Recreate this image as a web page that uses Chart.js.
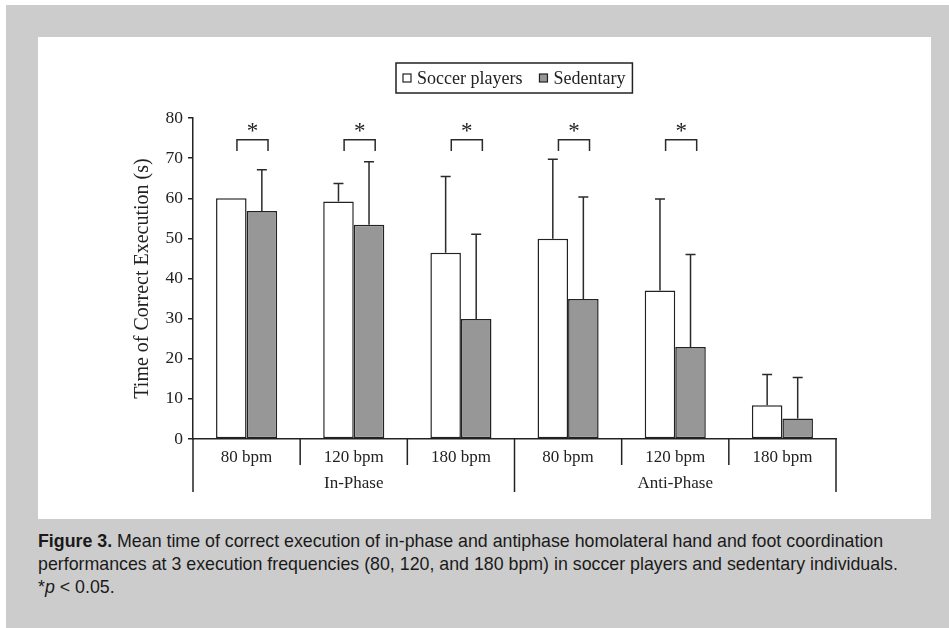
<!DOCTYPE html>
<html lang="en">
<head>
    <meta charset="UTF-8">
    <title>Figure 3</title>
    <script src="https://cdn.jsdelivr.net/npm/chart.js"></script>
    <style>
        body { margin: 0; width: 949px; height: 628px; overflow: hidden; background: #fff; }
        .fundo { position: absolute; left: 6px; top: 5px; width: 943px; height: 623px; background: #cccccc; }
        .painel { position: absolute; left: 38px; top: 37px; width: 893px; height: 482px; background: #fff; }
        .legenda { position: absolute; left: 38px; top: 530px; width: 905px; font-family: "Liberation Sans", Arial, sans-serif; font-size: 17.8px; line-height: 23px; color: #1a1a1a; white-space: nowrap; }
    </style>
</head>
<body>
    <div class="fundo"></div>
    <div class="painel">
        <canvas id="grafico" width="893" height="482"></canvas>
    </div>
    <div class="legenda">
        <b>Figure 3.</b> Mean time of correct execution of in-phase and antiphase homolateral hand and foot coordination<br>
        performances at 3 execution frequencies (80, 120, and 180 bpm) in soccer players and sedentary individuals.<br>
        *<i>p</i> &lt; 0.05.
    </div>
<script>
    var frequencias = ['80 bpm', '120 bpm', '180 bpm', '80 bpm', '120 bpm', '180 bpm']
    var fases = ['In-Phase', 'Anti-Phase']
    var tamanhoFase = [3, 3]
    var mediaSoccer = [60, 59.2, 46.4, 49.9, 37, 8.4]
    var dpSoccer = [0, 4.5, 19, 19.8, 22.8, 7.7]
    var mediaSed = [56.8, 53.4, 29.9, 34.9, 22.9, 5.1]
    var dpSed = [10.3, 15.7, 21.1, 25.4, 23.1, 10.2]
    var significativo = [true, true, true, true, true, false]
    var ticksY = [0, 10, 20, 30, 40, 50, 60, 70, 80]

    var serif = '"Liberation Serif", "Times New Roman", serif'
    var cor = '#222'

    var extras = {
        id: 'extras',
        afterDatasetsDraw(chart) {
            var ctx = chart.ctx
            var y = chart.scales.y
            var x = chart.scales.x
            var dps = [dpSoccer, dpSed]
            ctx.save()
            ctx.strokeStyle = '#2a2a2a'
            ctx.lineWidth = 1.5
            // barras de erro (só para cima)
            chart.data.datasets.forEach(function (ds, i) {
                var meta = chart.getDatasetMeta(i)
                meta.data.forEach(function (bar, j) {
                    var dp = dps[i][j]
                    if (!dp) return
                    var topo = y.getPixelForValue(ds.data[j] + dp)
                    ctx.beginPath()
                    ctx.moveTo(bar.x, bar.y)
                    ctx.lineTo(bar.x, topo)
                    ctx.moveTo(bar.x - 5, topo)
                    ctx.lineTo(bar.x + 5, topo)
                    ctx.stroke()
                })
            })
            // colchetes de significância
            ctx.fillStyle = cor
            ctx.font = '23px ' + serif
            ctx.textAlign = 'center'
            ctx.textBaseline = 'alphabetic'
            significativo.forEach(function (sig, i) {
                if (!sig) return
                var xe = x.getPixelForValue(i - 0.09)
                var xd = x.getPixelForValue(i + 0.2)
                var yt = y.getPixelForValue(74.6)
                var yb = y.getPixelForValue(71.8)
                ctx.beginPath()
                ctx.moveTo(xe, yb)
                ctx.lineTo(xe, yt)
                ctx.lineTo(xd, yt)
                ctx.lineTo(xd, yb)
                ctx.stroke()
                ctx.fillText('*', (xe + xd) / 2, yt - 2)
            })
            ctx.restore()
        },
        afterDraw(chart) {
            var ctx = chart.ctx
            var x = chart.scales.x
            var area = chart.chartArea
            ctx.save()
            ctx.strokeStyle = cor
            ctx.lineWidth = 1.5
            // separadores do eixo x
            var limitesFase = [0]
            tamanhoFase.forEach(function (n) { limitesFase.push(limitesFase[limitesFase.length - 1] + n) })
            for (var k = 0; k <= frequencias.length; k++) {
                var px = x.getPixelForValue(k - 0.5)
                var fim = limitesFase.indexOf(k) >= 0 ? area.bottom + 53 : area.bottom + 26
                ctx.beginPath()
                ctx.moveTo(px, area.bottom)
                ctx.lineTo(px, fim)
                ctx.stroke()
            }
            ctx.fillStyle = cor
            ctx.font = '17px ' + serif
            ctx.textAlign = 'center'
            ctx.textBaseline = 'middle'
            fases.forEach(function (f, i) {
                var a = x.getPixelForValue(limitesFase[i] - 0.5)
                var b = x.getPixelForValue(limitesFase[i + 1] - 0.5)
                ctx.fillText(f, (a + b) / 2, area.bottom + 45)
            })
            // legenda com moldura
            ctx.font = '18px ' + serif
            ctx.textAlign = 'left'
            var itens = chart.data.datasets.map(function (ds) {
                return { texto: ds.label, cor: ds.backgroundColor, w: ctx.measureText(ds.label).width }
            })
            var larg = 7 + 8 + 6 + itens[0].w + 17 + 8 + 6 + itens[1].w + 7
            var cx = (area.left + area.right) / 2
            var lx = Math.round(cx - larg / 2)
            var ly = 26
            ctx.lineWidth = 1.5
            ctx.strokeRect(lx, ly, larg, 30)
            var px2 = lx + 7
            itens.forEach(function (it) {
                ctx.fillStyle = it.cor
                ctx.fillRect(px2, ly + 11, 8, 8)
                ctx.lineWidth = 1.2
                ctx.strokeRect(px2, ly + 11, 8, 8)
                ctx.fillStyle = cor
                ctx.fillText(it.texto, px2 + 14, ly + 16)
                px2 += 8 + 6 + it.w + 17
            })
            ctx.restore()
        }
    }

    var grafico = new Chart(document.getElementById('grafico'), {
        type: 'bar',
        data: {
            labels: frequencias,
            datasets: [{
                label: 'Soccer players',
                data: mediaSoccer,
                backgroundColor: '#ffffff',
                borderColor: cor,
                borderWidth: 1.5,
                borderSkipped: false
            }, {
                label: 'Sedentary',
                data: mediaSed,
                backgroundColor: '#979797',
                borderColor: cor,
                borderWidth: 1.5,
                borderSkipped: false
            }]
        },
        options: {
            responsive: false,
            animation: false,
            categoryPercentage: 0.57,
            barPercentage: 1,
            layout: { padding: { left: 90, right: 95, top: 81, bottom: 0 } },
            plugins: { legend: { display: false }, tooltip: { enabled: false } },
            scales: {
                x: {
                    grid: { display: false, drawTicks: false },
                    border: { display: true, color: cor, width: 1.5 },
                    ticks: { font: { family: serif, size: 17 }, color: cor, padding: 8 },
                    afterFit: function (s) { s.height = 80 }
                },
                y: {
                    min: 0,
                    max: 80,
                    afterBuildTicks: function (s) { s.ticks = ticksY.map(function (v) { return { value: v } }) },
                    grid: { drawOnChartArea: false, tickLength: 5, color: cor, lineWidth: 1.5 },
                    border: { display: true, color: cor, width: 1.5 },
                    ticks: { font: { family: serif, size: 17.5 }, color: cor, padding: 5 },
                    title: {
                        display: true,
                        text: 'Time of Correct Execution (s)',
                        font: { family: serif, size: 20 },
                        color: cor,
                        padding: { top: 3, bottom: 0 }
                    },
                    afterFit: function (s) { s.width = 65 }
                }
            }
        },
        plugins: [extras]
    })
</script>
</body>
</html>
